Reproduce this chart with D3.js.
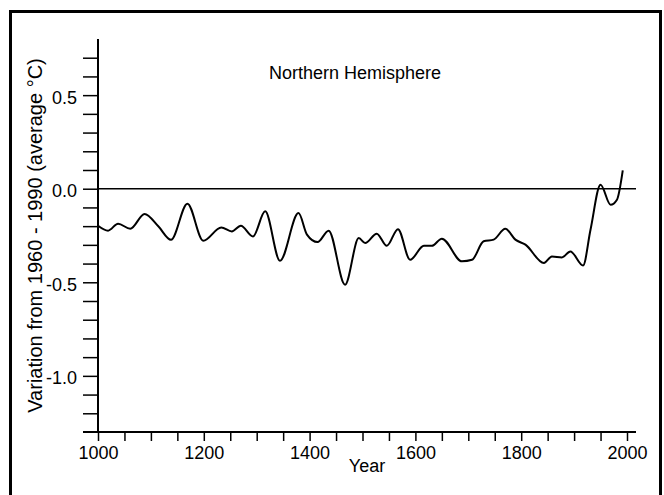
<!DOCTYPE html>
<html lang="en">
<head>
  <meta charset="UTF-8">
  <title>Northern Hemisphere temperature</title>
  <script src="https://d3js.org/d3.v7.min.js"></script>
  <style>
    body { margin: 0; background: #fff; }
    text { font-family: "Liberation Sans", Arial, sans-serif; fill: #000; }
    .tick line { stroke: #000; stroke-width: 1.5px; }
    .tick text { font-size: 18px; }
  </style>
</head>
<body>
  <svg width="664" height="495"></svg>

  <script>
    // values
    var years = [1000, 1019, 1038, 1061, 1088, 1114, 1138, 1169, 1199, 1233,
                 1253, 1270, 1293, 1316, 1344, 1379, 1395, 1415, 1436, 1467,
                 1493, 1505, 1527, 1546, 1567, 1590, 1616, 1631, 1650, 1688,
                 1707, 1729, 1748, 1770, 1789, 1808, 1843, 1858, 1877, 1893,
                 1917, 1931, 1950, 1969, 1981, 1992];
    var anomaly = [-0.198, -0.224, -0.187, -0.214, -0.135, -0.201, -0.273, -0.080, -0.278, -0.207,
                   -0.228, -0.198, -0.255, -0.121, -0.385, -0.130, -0.245, -0.285, -0.224, -0.513,
                   -0.264, -0.290, -0.240, -0.305, -0.216, -0.380, -0.305, -0.305, -0.267, -0.388,
                   -0.380, -0.281, -0.272, -0.214, -0.272, -0.299, -0.397, -0.362, -0.367, -0.335,
                   -0.410, -0.219, 0.021, -0.086, -0.059, 0.098];
    var yTicks = d3.range(-12, 8).map(function(d) { return d / 10; });
    var yLabels = [-1.0, -0.5, 0.0, 0.5];
    var xTicks = d3.range(1000, 2001, 50);
    var xLabels = [1000, 1200, 1400, 1600, 1800, 2000];

    var svg = d3.select("svg");

    // outer frame
    svg.append("rect")
        .attr("x", 10.5).attr("y", 11.5)
        .attr("width", 650).attr("height", 520)
        .attr("fill", "none")
        .attr("stroke", "#000")
        .attr("stroke-width", 3);

    var x = d3.scaleLinear().domain([1000, 2000]).range([98, 627]);
    var y = d3.scaleLinear().domain([-1.3, 0.8]).range([432, 39]);

    // y axis
    var yAxis = svg.append("g")
        .attr("transform", "translate(98,0)")
        .call(d3.axisLeft(y)
            .tickValues(yTicks)
            .tickSize(15)
            .tickPadding(6)
            .tickFormat(function(d) {
              var hit = yLabels.some(function(v) { return Math.abs(v - d) < 1e-6; });
              return hit ? d.toFixed(1) : "";
            }));
    yAxis.select(".domain").remove();
    yAxis.selectAll(".tick text").attr("dy", "0.45em");

    svg.append("line")
        .attr("x1", 98).attr("x2", 98)
        .attr("y1", y.range()[1]).attr("y2", y.range()[0])
        .attr("stroke", "#000").attr("stroke-width", 2);

    // x axis
    var xAxis = svg.append("g")
        .attr("transform", "translate(0,432)")
        .call(d3.axisBottom(x)
            .tickValues(xTicks)
            .tickSize(9)
            .tickPadding(5)
            .tickFormat(function(d) { return xLabels.indexOf(d) >= 0 ? d : ""; }));
    xAxis.select(".domain").remove();

    svg.append("line")
        .attr("x1", 83).attr("x2", x.range()[1] + 9)
        .attr("y1", 432).attr("y2", 432)
        .attr("stroke", "#000").attr("stroke-width", 2);

    // zero reference line
    svg.append("line")
        .attr("x1", 98).attr("x2", x.range()[1] + 9)
        .attr("y1", y(0)).attr("y2", y(0))
        .attr("stroke", "#000").attr("stroke-width", 1.6);

    // axis titles
    svg.append("text")
        .attr("x", (98 + x.range()[1] + 9) / 2)
        .attr("y", 472)
        .attr("text-anchor", "middle")
        .style("font-size", "18px")
        .text("Year");

    svg.append("text")
        .attr("transform", "translate(42," + (y.range()[0] + y.range()[1]) / 2 + ") rotate(-90)")
        .attr("text-anchor", "middle")
        .style("font-size", "20px")
        .text("Variation from 1960 - 1990 (average °C)");

    svg.append("text")
        .attr("x", 355)
        .attr("y", 79)
        .attr("text-anchor", "middle")
        .style("font-size", "18px")
        .text("Northern Hemisphere");

    // temperature curve
    var line = d3.line()
        .x(function(d, i) { return x(years[i]); })
        .y(function(d) { return y(d); })
        .curve(d3.curveMonotoneX);

    svg.append("path")
        .datum(anomaly)
        .attr("d", line)
        .attr("fill", "none")
        .attr("stroke", "#000")
        .attr("stroke-width", 2);
  </script>
</body>
</html>
